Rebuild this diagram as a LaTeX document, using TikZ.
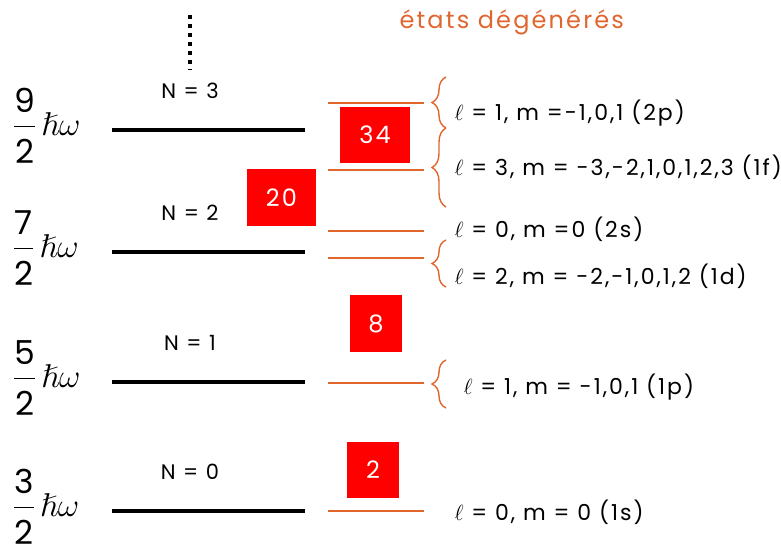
\RequirePackage{fix-cm}
\documentclass[tikz,border=0pt]{standalone}
\usepackage{amsmath}
\usepackage{amssymb}
\usepackage{fontspec}
\setmainfont{Poppins}
\newfontfamily\gothique[LetterSpace=9]{Poppins}
\usetikzlibrary{decorations.pathreplacing,positioning}
\definecolor{etatorange}{RGB}{224,102,46}
\definecolor{boxred}{RGB}{255,0,0}
\newcommand{\energie}[1]{$\dfrac{\text{#1}}{\rule{0pt}{32pt}\text{2}}\hspace{5pt}\hslash\omega$}

\begin{document}
\begin{tikzpicture}[x=1pt, y=-1pt,
	niveau/.style={line width=4.5pt},
	etat/.style={etatorange, line width=2.2pt},
	accol/.style={etatorange, line width=1.4pt, decorate,
		decoration={brace, amplitude=14pt, mirror}},
	boite/.style={fill=boxred, text=white, inner sep=0pt,
		font=\gothique\fontsize{24}{28}\selectfont},
	nlab/.style={font=\gothique\fontsize{21}{24}\selectfont},
	etiq/.style={anchor=west, font=\gothique\fontsize{22}{26}\selectfont},
	frac/.style={anchor=base west, inner sep=0pt, font=\fontsize{33}{38}\selectfont}]
	\useasboundingbox (0,0) rectangle (781,549);
	% oscillateur : niveaux N
	\foreach \n/\y/\f in {3/130/9, 2/252/7, 1/382/5, 0/511/3}{
		\coordinate (N\n-g) at (112,\y);
		\coordinate (N\n-d) at (305,\y);
		\draw[niveau] (N\n-g) -- (N\n-d);
		\node[nlab] (lab\n) at (190,\y-39) {N = \n};
		\node[frac] (E\n) at (13,\y+5) {\energie{\f}};
	}
	\draw[line width=3.5pt, dash pattern=on 3.5pt off 5.5pt] (190,15) -- (190,70);
	% etats degeneres
	\node[etatorange, anchor=west, font=\gothique\fontsize{24}{28}\selectfont] (titre) at (396,22) {états dégénérés};
	\foreach \nom/\y in {2p/103, 1f/170, 2s/231, 1d/258, 1p/383, 1s/511}{
		\coordinate (\nom-g) at (328,\y);
		\coordinate (\nom-d) at (424,\y);
		\draw[etat] (\nom-g) -- (\nom-d);
	}
	\draw[accol] (446,77) -- (446,128);
	\draw[accol] (446,128) -- (446,207);
	\draw[accol] (446,240) -- (446,287);
	\draw[accol] (446,360) -- (446,408);
	\node[etiq] (t2p) at (451,113) {$\ell$ = 1, m =-1,0,1 (2p)};
	\node[etiq] (t1f) at (451,167) {$\ell$ = 3, m = -3,-2,1,0,1,2,3 (1f)};
	\node[etiq] (t2s) at (451,229) {$\ell$ = 0, m =0 (2s)};
	\node[etiq] (t1d) at (451,276) {$\ell$ = 2, m = -2,-1,0,1,2 (1d)};
	\node[etiq] (t1p) at (460,387) {$\ell$ = 1, m = -1,0,1 (1p)};
	\node[etiq] (t1s) at (451,512) {$\ell$ = 0, m = 0 (1s)};
	% nombres magiques
	\node[boite, minimum width=70pt, minimum height=56pt] (b34) at (375,135) {34};
	\node[boite, minimum width=69pt, minimum height=57pt] (b20) at (281.5,197.5) {20};
	\node[boite, minimum width=52pt, minimum height=57pt] (b8) at (376,323.5) {8};
	\node[boite, minimum width=52pt, minimum height=56pt] (b2) at (373,470) {2};
\end{tikzpicture}
\end{document}
